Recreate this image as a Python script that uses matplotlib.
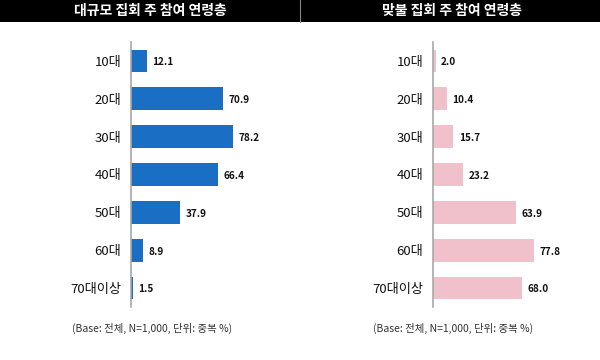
import matplotlib
matplotlib.use("Agg")
import matplotlib.pyplot as plt
from matplotlib.patches import Rectangle
from matplotlib.lines import Line2D

plt.rcParams['font.family'] = ['Noto Sans CJK KR', 'DejaVu Sans']

categories = ["10대", "20대", "30대", "40대", "50대", "60대", "70대이상"]
large_rally = [12.1, 70.9, 78.2, 66.4, 37.9, 8.9, 1.5]
counter_rally = [2.0, 10.4, 15.7, 23.2, 63.9, 77.8, 68.0]
titles = ["대규모 집회 주 참여 연령층", "맞불 집회 주 참여 연령층"]
footnote = "(Base: 전체, N=1,000, 단위: 중복 %)"

W, H = 600, 360
fig = plt.figure(figsize=(6, 3.6), dpi=100)
fig.patch.set_facecolor("white")

# header band
band_h = 22
fig.add_artist(Rectangle((0, 1 - band_h / H), 1, band_h / H, transform=fig.transFigure,
                         facecolor="black", edgecolor="none", zorder=0))
fig.add_artist(Line2D([300 / W, 300 / W], [1 - band_h / H, 1], transform=fig.transFigure,
                      color="#888888", lw=0.8))
fig.text(150 / W, 1 - 11 / H, titles[0], color="white", fontsize=10, fontweight="bold",
         ha="center", va="center")
fig.text(452 / W, 1 - 11 / H, titles[1], color="white", fontsize=10, fontweight="bold",
         ha="center", va="center")

px_per_unit = 1.303
axes_top, axes_bot = 42, 307
ax_w = 150
series = [large_rally, counter_rally]
colors = ["#1a6ec3", "#f0c1cb"]
lefts = [131, 433]
foot_x = [72, 373]

for k in range(2):
    ax = fig.add_axes([lefts[k] / W, 1 - axes_bot / H, ax_w / W, (axes_bot - axes_top) / H])
    ax.set_facecolor("none")
    ypos = list(range(len(categories)))
    ax.barh(ypos, series[k], height=0.6, color=colors[k], edgecolor="none")
    ax.set_xlim(0, ax_w / px_per_unit)
    ax.set_ylim(6.5, -0.5)
    ax.set_yticks(ypos)
    ax.set_yticklabels(categories, fontsize=9.5, fontweight="medium", color="#111111")
    ax.tick_params(axis="y", length=0, pad=7)
    ax.set_xticks([])
    for s in ["top", "right", "bottom"]:
        ax.spines[s].set_visible(False)
    ax.spines["left"].set_color("#a8a8a8")
    ax.spines["left"].set_linewidth(1.2)
    for i, v in enumerate(series[k]):
        ax.annotate(f"{v:.1f}", (v, i), xytext=(4, -1), textcoords="offset points",
                    ha="left", va="center", fontsize=7.2, fontweight="bold", color="#111111")
    fig.text(foot_x[k] / W, 1 - 328 / H, footnote, fontsize=7.5, color="#333333",
             ha="left", va="center")

fig.savefig("out.png", dpi=100)
